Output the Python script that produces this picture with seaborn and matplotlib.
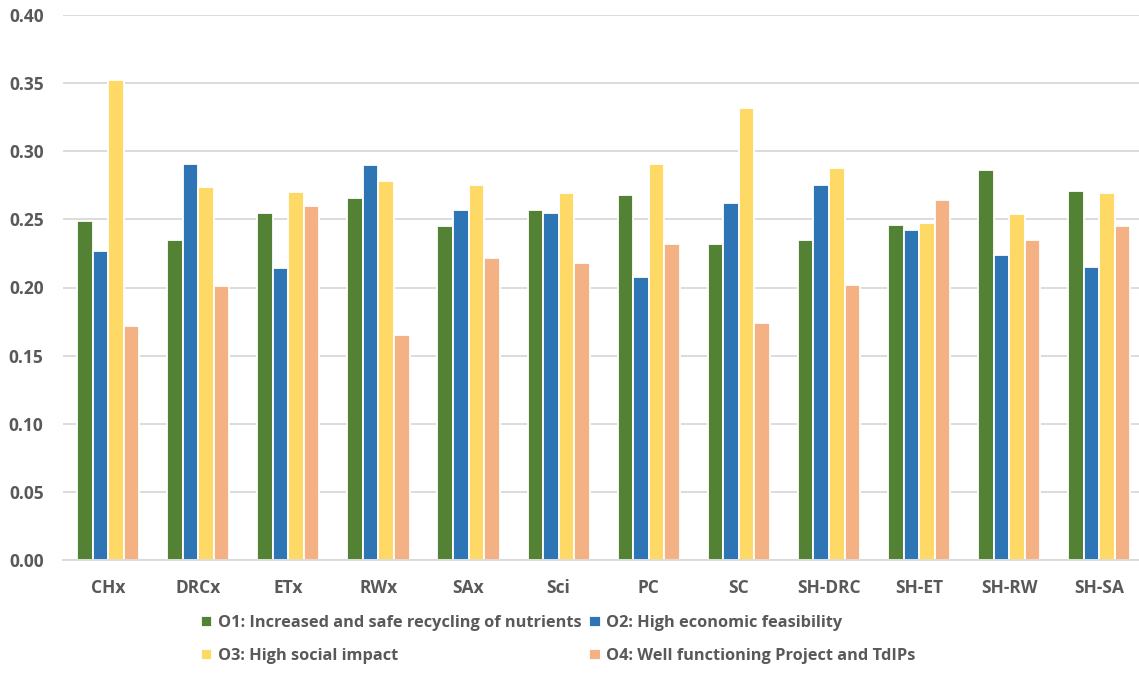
import matplotlib
matplotlib.use("Agg")
import matplotlib.pyplot as plt
import seaborn as sns
import pandas as pd

# Scenario labels along the x axis
scenarios = ["CHx", "DRCx", "ETx", "RWx", "SAx", "Sci", "PC", "SC",
             "SH-DRC", "SH-ET", "SH-RW", "SH-SA"]

# Objective names (legend entries)
objectives = [
    "O1: Increased and safe recycling of nutrients",
    "O2: High economic feasibility",
    "O3: High social impact",
    "O4: Well functioning Project and TdIPs",
]

# Weighted scores per objective and scenario
o1 = [0.249, 0.235, 0.255, 0.266, 0.245, 0.257, 0.268, 0.232, 0.235, 0.246, 0.286, 0.271]
o2 = [0.227, 0.291, 0.214, 0.290, 0.257, 0.255, 0.208, 0.262, 0.275, 0.242, 0.224, 0.215]
o3 = [0.352, 0.274, 0.270, 0.278, 0.275, 0.269, 0.291, 0.332, 0.288, 0.247, 0.254, 0.269]
o4 = [0.172, 0.201, 0.260, 0.165, 0.222, 0.218, 0.232, 0.174, 0.202, 0.264, 0.235, 0.245]

colors = ["#548235", "#2E75B6", "#FFD966", "#F4B183"]

rows = []
for name, vals in zip(objectives, [o1, o2, o3, o4]):
    for sc, v in zip(scenarios, vals):
        rows.append({"Scenario": sc, "Objective": name, "Score": v})
df = pd.DataFrame(rows)

sns.set_style("white")
text_color = "#595959"
plt.rcParams["font.family"] = ["Open Sans", "DejaVu Sans"]

fig = plt.figure(figsize=(11.39, 6.73), dpi=100)
ax = fig.add_axes([63 / 1139, 1 - 560 / 673, (1139 - 63) / 1139, (560 - 15) / 673])

sns.barplot(data=df, x="Scenario", y="Score", hue="Objective",
            order=scenarios, hue_order=objectives, palette=colors,
            saturation=1, width=0.69, edgecolor="white", linewidth=1.3,
            ax=ax, legend=True)

ax.set_xlim(-0.5, 11.44)
ax.set_ylim(0, 0.40)
ax.set_yticks([i * 0.05 for i in range(9)])
ax.set_yticklabels([f"{i * 0.05:.2f}" for i in range(9)])
ax.yaxis.grid(True, color="#D9D9D9", linewidth=1.3)
ax.set_axisbelow(True)
for side in ["top", "right", "left"]:
    ax.spines[side].set_visible(False)
ax.spines["bottom"].set_color("#D9D9D9")
ax.spines["bottom"].set_linewidth(1.3)
ax.set_xlabel("")
ax.set_ylabel("")
ax.tick_params(axis="both", length=0, colors=text_color, labelsize=12.5)
ax.tick_params(axis="x", pad=14)
ax.tick_params(axis="y", pad=14)
for lbl in ax.get_xticklabels() + ax.get_yticklabels():
    lbl.set_fontweight("bold")

handles, labels = ax.get_legend_handles_labels()
ax.get_legend().remove()
# two columns filled column-first: put O1/O3 in the left column, O2/O4 in the right
order = [0, 2, 1, 3]
leg = fig.legend([handles[i] for i in order], [labels[i] for i in order],
                 ncol=2, loc="upper left",
                 bbox_to_anchor=(201 / 1139, 1 - 615 / 673),
                 frameon=False, prop={"size": 11.8, "weight": "bold"},
                 handlelength=0.7, handleheight=0.7, handletextpad=0.35,
                 columnspacing=0.45, labelspacing=1.05, borderpad=0,
                 borderaxespad=0)
for t in leg.get_texts():
    t.set_color(text_color)

fig.savefig("out.png", dpi=100)
